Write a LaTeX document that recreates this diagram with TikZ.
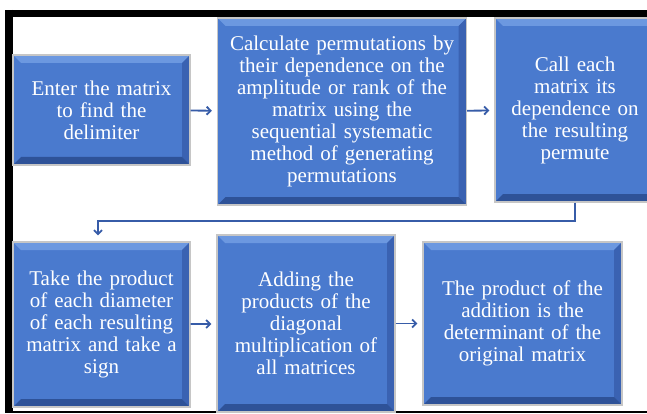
\documentclass[tikz,border=0pt]{standalone}
\usepackage{fontspec}
\setmainfont{Liberation Serif}
\usetikzlibrary{arrows.meta}

\definecolor{boxblue}{RGB}{74,122,206}
\definecolor{bevlight}{RGB}{108,152,224}
\definecolor{bevdark}{RGB}{46,82,152}
\definecolor{bevside}{RGB}{58,98,178}
\definecolor{flowblue}{RGB}{55,92,168}

\begin{document}
\begin{tikzpicture}[x=1pt, y=-1pt, ->, >={Straight Barb[length=4pt, width=8pt]},
    stage/.style={draw=gray!45, line width=1.2pt, fill=boxblue, text=white, inner sep=0pt,
        align=center, font=\fontsize{21}{22}\selectfont,
        path picture={
            \fill[bevlight] (path picture bounding box.north west) -- (path picture bounding box.north east)
                -- ([shift={(-8pt,-8pt)}]path picture bounding box.north east)
                -- ([shift={(8pt,-8pt)}]path picture bounding box.north west) -- cycle;
            \fill[bevside] (path picture bounding box.north east) -- (path picture bounding box.south east)
                -- ([shift={(-8pt,8pt)}]path picture bounding box.south east)
                -- ([shift={(-8pt,-8pt)}]path picture bounding box.north east) -- cycle;
            \fill[bevdark] (path picture bounding box.south west) -- (path picture bounding box.south east)
                -- ([shift={(-8pt,8pt)}]path picture bounding box.south east)
                -- ([shift={(8pt,8pt)}]path picture bounding box.south west) -- cycle;
        }},
    flow/.style={draw=flowblue, line width=1.8pt, shorten >=5pt}]

\path[use as bounding box, clip] (0,0) rectangle (647,414);
\fill[white] (0,0) rectangle (647,414);

% frame
\draw[-, line width=7pt] (5,13.5) -- (647,13.5);
\draw[-, line width=8pt] (9,10) -- (9,413);
\draw[-, line width=2pt] (5,412) -- (647,412);

\node[stage, minimum width=177pt, minimum height=110pt, text width=170pt] at (101.5, 110)  (enter)   {Enter the matrix\\to find the\\delimiter};
\node[stage, minimum width=249pt, minimum height=187pt, text width=245pt] at (342, 111.5)  (calc)    {Calculate permutations by\\their dependence on the\\amplitude or rank of the\\matrix using the\\sequential systematic\\method of generating\\permutations};
\node[stage, minimum width=160pt, minimum height=184pt, text width=155pt] at (575, 110)    (call)    {Call each\\matrix its\\dependence on\\the resulting\\permute};
\node[stage, minimum width=177pt, minimum height=165pt, text width=175pt] at (101.5, 324.5) (prod)    {Take the product\\of each diameter\\of each resulting\\matrix and take a\\sign};
\node[stage, minimum width=178pt, minimum height=177pt, text width=176pt] at (306, 323.5)   (add)     {Adding the\\products of the\\diagonal\\multiplication of\\all matrices};
\node[stage, minimum width=199pt, minimum height=163pt, text width=195pt] at (522.5, 323.5) (result)  {The product of the\\addition is the\\determinant of the\\original matrix};

\coordinate (turn) at (575, 221);

\path
	(enter) edge [flow] (calc)
	(calc) edge [flow] (call)
	(prod) edge [flow] (add)
	(add) edge [flow] (result);
\draw[flow, shorten >=6pt] (call.south) |- (turn) -| ([xshift=-3.5pt]prod.north);

\end{tikzpicture}
\end{document}
